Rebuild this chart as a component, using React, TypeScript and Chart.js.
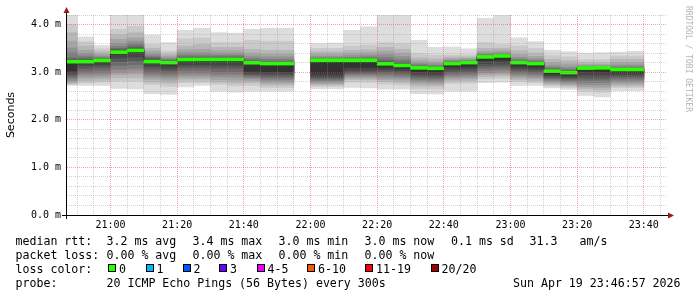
import React, { useEffect, useRef } from 'react';
import { Chart, registerables } from 'chart.js';

Chart.register(...registerables);

// ---------- data ----------
const axisStart = '20:46:57';
const axisEnd = '23:46:57';

// end time of each 5-minute step
const stepEnds = [
  '20:50', '20:55', '21:00', '21:05', '21:10', '21:15', '21:20', '21:25', '21:30', '21:35',
  '21:40', '21:45', '21:50', '21:55', '22:00', '22:05', '22:10', '22:15', '22:20', '22:25',
  '22:30', '22:35', '22:40', '22:45', '22:50', '22:55', '23:00', '23:05', '23:10', '23:15',
  '23:20', '23:25', '23:30', '23:35', '23:40',
];

// median RTT (ms) per step
const medianRtt = [
  3.22, 3.22, 3.245, 3.42, 3.455, 3.22, 3.2, 3.265, 3.267, 3.267,
  3.267, 3.197, 3.18, 3.18, null, 3.25, 3.25, 3.25, 3.25, 3.175,
  3.14, 3.09, 3.08, 3.18, 3.2, 3.32, 3.34, 3.2, 3.18, 3.02,
  2.99, 3.085, 3.09, 3.055, 3.055,
];

// 20 sorted ping RTTs (ms) per step
const pingSamples: (number[] | null)[] = [
  [2.72, 2.74, 2.76, 2.79, 2.82, 2.86, 2.90, 2.94, 2.98, 3.03, 3.22, 3.24, 3.27, 3.30, 3.41, 3.51, 3.65, 3.83, 4.00, 4.40],
  [2.72, 2.77, 2.82, 2.87, 2.92, 2.97, 3.02, 3.08, 3.14, 3.19, 3.23, 3.25, 3.27, 3.30, 3.34, 3.39, 3.46, 3.55, 3.64, 3.74],
  [2.72, 2.79, 2.83, 2.88, 2.93, 2.98, 3.04, 3.10, 3.15, 3.20, 3.25, 3.26, 3.27, 3.29, 3.31, 3.34, 3.38, 3.43, 3.49, 3.56],
  [2.66, 2.81, 2.88, 2.95, 3.00, 3.06, 3.14, 3.22, 3.30, 3.38, 3.43, 3.45, 3.47, 3.50, 3.54, 3.60, 3.69, 3.79, 3.90, 4.40],
  [2.65, 2.81, 2.88, 2.96, 3.02, 3.08, 3.16, 3.24, 3.32, 3.40, 3.47, 3.48, 3.51, 3.55, 3.60, 3.65, 3.72, 3.83, 3.96, 4.40],
  [2.55, 2.74, 2.79, 2.85, 2.90, 2.95, 3.00, 3.06, 3.12, 3.18, 3.24, 3.25, 3.28, 3.31, 3.34, 3.38, 3.44, 3.50, 3.58, 3.78],
  [2.53, 2.70, 2.77, 2.83, 2.88, 2.93, 2.98, 3.03, 3.08, 3.14, 3.20, 3.21, 3.23, 3.25, 3.27, 3.30, 3.34, 3.38, 3.44, 3.62],
  [2.69, 2.78, 2.83, 2.88, 2.93, 2.98, 3.04, 3.10, 3.15, 3.21, 3.27, 3.28, 3.30, 3.32, 3.36, 3.41, 3.47, 3.55, 3.70, 3.88],
  [2.72, 2.78, 2.83, 2.88, 2.93, 2.98, 3.04, 3.10, 3.15, 3.21, 3.27, 3.28, 3.30, 3.32, 3.36, 3.41, 3.48, 3.58, 3.72, 3.92],
  [2.60, 2.74, 2.79, 2.84, 2.90, 2.95, 3.01, 3.08, 3.14, 3.21, 3.27, 3.28, 3.30, 3.32, 3.35, 3.39, 3.45, 3.52, 3.62, 3.83],
  [2.58, 2.71, 2.77, 2.83, 2.89, 2.95, 3.01, 3.08, 3.14, 3.21, 3.27, 3.28, 3.30, 3.32, 3.35, 3.39, 3.45, 3.52, 3.62, 3.82],
  [2.60, 2.72, 2.78, 2.82, 2.86, 2.89, 2.92, 2.95, 2.98, 3.02, 3.20, 3.21, 3.23, 3.25, 3.29, 3.34, 3.40, 3.48, 3.67, 3.90],
  [2.60, 2.68, 2.73, 2.77, 2.81, 2.85, 2.89, 2.93, 2.97, 3.01, 3.17, 3.18, 3.20, 3.23, 3.27, 3.32, 3.38, 3.46, 3.65, 3.92],
  [2.60, 2.68, 2.73, 2.77, 2.81, 2.85, 2.89, 2.93, 2.97, 3.01, 3.17, 3.18, 3.20, 3.23, 3.27, 3.32, 3.38, 3.46, 3.65, 3.92],
  null,
  [2.65, 2.70, 2.73, 2.76, 2.79, 2.82, 2.85, 2.88, 2.92, 2.98, 3.24, 3.25, 3.26, 3.28, 3.30, 3.33, 3.38, 3.43, 3.50, 3.60],
  [2.65, 2.70, 2.73, 2.76, 2.79, 2.82, 2.85, 2.88, 2.92, 2.98, 3.24, 3.25, 3.26, 3.28, 3.30, 3.33, 3.38, 3.43, 3.50, 3.61],
  [2.68, 2.79, 2.84, 2.87, 2.91, 2.94, 2.97, 3.00, 3.04, 3.10, 3.24, 3.25, 3.26, 3.28, 3.31, 3.35, 3.40, 3.46, 3.55, 3.88],
  [2.67, 2.79, 2.84, 2.87, 2.91, 2.94, 2.97, 3.00, 3.04, 3.10, 3.25, 3.26, 3.27, 3.29, 3.32, 3.36, 3.41, 3.47, 3.57, 3.95],
  [2.64, 2.75, 2.80, 2.84, 2.88, 2.93, 2.97, 3.01, 3.05, 3.10, 3.18, 3.20, 3.22, 3.26, 3.31, 3.37, 3.44, 3.52, 3.62, 4.50],
  [2.64, 2.73, 2.78, 2.83, 2.87, 2.91, 2.95, 2.99, 3.03, 3.08, 3.15, 3.16, 3.18, 3.22, 3.27, 3.33, 3.40, 3.48, 3.60, 4.50],
  [2.55, 2.65, 2.71, 2.76, 2.80, 2.84, 2.88, 2.92, 2.96, 3.01, 3.09, 3.10, 3.11, 3.13, 3.16, 3.19, 3.24, 3.30, 3.39, 3.67],
  [2.54, 2.65, 2.71, 2.75, 2.79, 2.83, 2.87, 2.91, 2.95, 3.00, 3.08, 3.09, 3.10, 3.12, 3.14, 3.18, 3.22, 3.28, 3.36, 3.52],
  [2.60, 2.76, 2.81, 2.85, 2.89, 2.93, 2.97, 3.01, 3.06, 3.11, 3.18, 3.19, 3.20, 3.21, 3.23, 3.25, 3.28, 3.32, 3.36, 3.53],
  [2.60, 2.77, 2.82, 2.86, 2.90, 2.94, 2.98, 3.02, 3.07, 3.12, 3.20, 3.21, 3.22, 3.23, 3.24, 3.26, 3.29, 3.32, 3.36, 3.49],
  [2.78, 2.86, 2.91, 2.95, 2.99, 3.03, 3.08, 3.13, 3.18, 3.24, 3.32, 3.33, 3.34, 3.35, 3.37, 3.40, 3.44, 3.50, 3.62, 4.13],
  [2.79, 2.87, 2.92, 2.96, 3.00, 3.04, 3.09, 3.14, 3.19, 3.25, 3.34, 3.35, 3.36, 3.37, 3.38, 3.41, 3.45, 3.50, 3.58, 4.22],
  [2.72, 2.80, 2.84, 2.88, 2.92, 2.96, 3.00, 3.04, 3.08, 3.13, 3.20, 3.21, 3.22, 3.24, 3.27, 3.31, 3.37, 3.45, 3.55, 3.72],
  [2.72, 2.78, 2.82, 2.86, 2.90, 2.94, 2.98, 3.02, 3.06, 3.11, 3.18, 3.19, 3.20, 3.22, 3.24, 3.28, 3.33, 3.40, 3.50, 3.64],
  [2.67, 2.71, 2.74, 2.77, 2.80, 2.83, 2.86, 2.89, 2.92, 2.96, 3.03, 3.04, 3.05, 3.07, 3.10, 3.14, 3.20, 3.27, 3.35, 3.46],
  [2.64, 2.68, 2.71, 2.74, 2.77, 2.80, 2.83, 2.86, 2.89, 2.93, 3.00, 3.01, 3.02, 3.04, 3.07, 3.11, 3.17, 3.24, 3.32, 3.43],
  [2.51, 2.60, 2.65, 2.69, 2.73, 2.78, 2.83, 2.88, 2.94, 3.00, 3.08, 3.09, 3.09, 3.10, 3.11, 3.13, 3.16, 3.20, 3.26, 3.40],
  [2.48, 2.58, 2.63, 2.68, 2.73, 2.78, 2.83, 2.88, 2.94, 3.00, 3.09, 3.09, 3.09, 3.10, 3.11, 3.13, 3.16, 3.20, 3.26, 3.41],
  [2.61, 2.68, 2.71, 2.75, 2.79, 2.83, 2.87, 2.91, 2.95, 2.99, 3.06, 3.06, 3.07, 3.08, 3.11, 3.15, 3.20, 3.27, 3.34, 3.42],
  [2.61, 2.68, 2.71, 2.75, 2.79, 2.83, 2.87, 2.91, 2.95, 2.99, 3.06, 3.06, 3.07, 3.08, 3.11, 3.15, 3.20, 3.27, 3.34, 3.44],
];

const yTickLabels = ['0.0 m', '1.0 m', '2.0 m', '3.0 m', '4.0 m'];
const xTickLabels = ['21:00', '21:20', '21:40', '22:00', '22:20', '22:40', '23:00', '23:20', '23:40'];

const smokeShades = ['#dddddd', '#cacaca', '#b7b7b7', '#a4a4a4', '#919191', '#7e7e7e', '#6b6b6b', '#585858', '#454545', '#323232'];

const medianStats = ['3.2 ms avg', '3.4 ms max', '3.0 ms min', '3.0 ms now', '0.1 ms sd', '31.3', 'am/s'];
const lossStats = ['0.00 % avg', '0.00 % max', '0.00 % min', '0.00 % now'];
const lossLabels = ['0', '1', '2', '3', '4-5', '6-10', '11-19', '20/20'];
const lossColors = ['#26ff00', '#00b8ff', '#0059ff', '#6a00ff', '#ee00ff', '#ff5500', '#ff0000', '#a10000'];
const probeText = '20 ICMP Echo Pings (56 Bytes) every 300s';
const stampText = 'Sun Apr 19 23:46:57 2026';

// ---------- helpers ----------
const toMin = (s: string) => {
  const p = s.split(':').map(Number);
  return p[0] * 60 + p[1] + (p[2] || 0) / 60;
};

const MONO = "'DejaVu Sans Mono', monospace";

const axesPlugin = {
  id: 'rrdAxes',
  afterDraw(chart: any) {
    const { ctx, chartArea: a } = chart;
    ctx.save();
    ctx.strokeStyle = '#000';
    ctx.lineWidth = 1;
    ctx.beginPath();
    ctx.moveTo(a.left - 0.5, a.bottom + 4);
    ctx.lineTo(a.left - 0.5, a.top - 6);
    ctx.moveTo(a.left - 5, a.bottom + 0.5);
    ctx.lineTo(a.right + 2, a.bottom + 0.5);
    ctx.stroke();
    ctx.fillStyle = '#a01818';
    ctx.beginPath();
    ctx.moveTo(a.left - 0.5, a.top - 8);
    ctx.lineTo(a.left - 3.5, a.top - 2);
    ctx.lineTo(a.left + 2.5, a.top - 2);
    ctx.closePath();
    ctx.fill();
    ctx.beginPath();
    ctx.moveTo(a.right + 7, a.bottom + 0.5);
    ctx.lineTo(a.right + 1, a.bottom - 2.5);
    ctx.lineTo(a.right + 1, a.bottom + 3.5);
    ctx.closePath();
    ctx.fill();
    ctx.restore();
  },
};

export default function App() {
  const canvasRef = useRef<HTMLCanvasElement | null>(null);

  useEffect(() => {
    const canvas = canvasRef.current;
    if (!canvas) return;
    const stepX = stepEnds.map(toMin);
    const xMin = toMin(axisStart);
    const xMax = toMin(axisEnd);

    const datasets: any[] = [];
    smokeShades.forEach((color, b) => {
      const data: any[] = [];
      stepX.forEach((t, i) => {
        const row = pingSamples[i];
        if (row) data.push({ x: t - 2.5, y: [row[b], row[19 - b]] });
      });
      datasets.push({
        type: 'bar',
        data,
        backgroundColor: color,
        borderWidth: 0,
        grouped: false,
        barPercentage: 1,
        categoryPercentage: 1,
        order: 30 - b,
      });
    });

    // thin dark stepped median line
    const lineData: any[] = stepX.map((t, i) => ({ x: t - 5, y: medianRtt[i] }));
    lineData.push({ x: stepX[stepX.length - 1], y: medianRtt[medianRtt.length - 1] });
    datasets.push({
      type: 'line',
      data: lineData,
      borderColor: '#1a1a1a',
      borderWidth: 1,
      pointRadius: 0,
      stepped: true,
      spanGaps: false,
      fill: false,
      order: 2,
    });

    // green median band (0 % loss colour)
    const greenData: any[] = [];
    stepX.forEach((t, i) => {
      const m = medianRtt[i];
      if (m != null) greenData.push({ x: t - 2.5, y: [m - 0.031, m + 0.031] });
    });
    datasets.push({
      type: 'bar',
      data: greenData,
      backgroundColor: lossColors[0],
      borderWidth: 0,
      grouped: false,
      barPercentage: 1,
      categoryPercentage: 1,
      order: 1,
    });

    const xTicks: number[] = [];
    for (let v = Math.ceil(xMin / 5) * 5; v <= xMax; v += 5) xTicks.push(v);
    const yTicks: number[] = [];
    for (let i = 0; i <= 21; i++) yTicks.push(Math.round(i * 2) / 10);

    const fmt = (m: number) => {
      const h = Math.floor(m / 60);
      const mm = Math.round(m - h * 60);
      return `${String(h).padStart(2, '0')}:${String(mm).padStart(2, '0')}`;
    };

    const minorGrid = 'rgba(150,150,150,0.42)';
    const majorGrid = 'rgba(222,79,79,0.5)';

    const chart = new Chart(canvas, {
      type: 'bar',
      data: { datasets },
      options: {
        responsive: false,
        animation: false,
        devicePixelRatio: 1,
        layout: { padding: { left: 0, top: 15, right: 30, bottom: 0 } },
        plugins: {
          legend: { display: false },
          tooltip: { enabled: false },
          title: { display: false },
        },
        scales: {
          x: {
            type: 'linear',
            min: xMin,
            max: xMax,
            offset: false,
            grid: {
              offset: false,
              z: 1,
              drawTicks: false,
              lineWidth: 1,
              color: (c: any) => {
                const v = c.tick ? c.tick.value : 0;
                const lab = fmt(v);
                return xTickLabels.includes(lab) ? majorGrid : minorGrid;
              },
            },
            border: { display: false, dash: [1, 1] },
            ticks: {
              autoSkip: false,
              maxRotation: 0,
              minRotation: 0,
              padding: 4,
              color: '#000',
              font: { family: MONO, size: 10 },
              callback: (v: any) => {
                const lab = fmt(Number(v));
                return xTickLabels.includes(lab) ? lab : '';
              },
            },
            afterBuildTicks: (s: any) => {
              s.ticks = xTicks.map((v) => ({ value: v }));
            },
            afterFit: (s: any) => {
              s.height = 82;
            },
          },
          y: {
            type: 'linear',
            min: 0,
            max: 4.2,
            grid: {
              z: 1,
              drawTicks: false,
              lineWidth: 1,
              color: (c: any) => {
                const v = c.tick ? c.tick.value : 0;
                return Math.abs(v - Math.round(v)) < 1e-6 ? majorGrid : minorGrid;
              },
            },
            border: { display: false, dash: [1, 1] },
            ticks: {
              autoSkip: false,
              padding: 6,
              color: '#000',
              font: { family: MONO, size: 10 },
              callback: (v: any) => {
                const n = Number(v);
                return Math.abs(n - Math.round(n)) < 1e-6 ? yTickLabels[Math.round(n)] ?? '' : '';
              },
            },
            afterBuildTicks: (s: any) => {
              s.ticks = yTicks.map((v) => ({ value: v }));
            },
            afterFit: (s: any) => {
              s.width = 67;
            },
          },
        },
      } as any,
      plugins: [axesPlugin],
    });

    return () => chart.destroy();
  }, []);

  const textBase: React.CSSProperties = {
    position: 'absolute',
    fontFamily: MONO,
    fontSize: '11.6px',
    lineHeight: '14px',
    whiteSpace: 'pre',
    color: '#000',
  };
  const rowTops = [234, 248, 262, 276];
  const statX = [106.5, 192.5, 278.5, 364.5, 451, 529.5, 579.5];
  const boxX = [108, 145.5, 182.5, 219, 256.5, 307, 365, 430.5];

  return (
    <div
      style={{
        position: 'fixed',
        left: 0,
        top: 0,
        width: 697,
        height: 297,
        overflow: 'hidden',
        background: '#fff',
      }}
    >
      <canvas ref={canvasRef} width={697} height={297} style={{ position: 'absolute', left: 0, top: 0 }} />

      <div
        style={{
          position: 'absolute',
          left: 11 - 30,
          top: 115 - 6,
          width: 60,
          height: 12,
          textAlign: 'center',
          transform: 'rotate(-90deg)',
          fontFamily: "'DejaVu Sans', sans-serif",
          fontSize: '11px',
          lineHeight: '12px',
          whiteSpace: 'nowrap',
          color: '#000',
        }}
      >
        Seconds
      </div>

      <div
        style={{
          position: 'absolute',
          left: 688 - 60,
          top: 59 - 5,
          width: 120,
          height: 10,
          textAlign: 'center',
          transform: 'rotate(90deg)',
          fontFamily: MONO,
          fontSize: '8px',
          lineHeight: '10px',
          whiteSpace: 'nowrap',
          color: '#b4b4b4',
        }}
      >
        RRDTOOL / TOBI OETIKER
      </div>

      <div style={{ ...textBase, left: 15.5, top: rowTops[0] }}>median rtt:</div>
      {medianStats.map((s, i) => (
        <div key={'m' + i} style={{ ...textBase, left: statX[i], top: rowTops[0] }}>
          {s}
        </div>
      ))}

      <div style={{ ...textBase, left: 15.5, top: rowTops[1] }}>packet loss:</div>
      {lossStats.map((s, i) => (
        <div key={'l' + i} style={{ ...textBase, left: statX[i], top: rowTops[1] }}>
          {s}
        </div>
      ))}

      <div style={{ ...textBase, left: 15.5, top: rowTops[2] }}>loss color:</div>
      {lossLabels.map((s, i) => (
        <React.Fragment key={'c' + i}>
          <div
            style={{
              position: 'absolute',
              left: boxX[i],
              top: 264,
              width: 8,
              height: 8,
              boxSizing: 'border-box',
              border: '1px solid #000',
              background: lossColors[i],
            }}
          />
          <div style={{ ...textBase, left: boxX[i] + 11, top: rowTops[2] }}>{s}</div>
        </React.Fragment>
      ))}

      <div style={{ ...textBase, left: 15.5, top: rowTops[3] }}>probe:</div>
      <div style={{ ...textBase, left: 106.5, top: rowTops[3] }}>{probeText}</div>
      <div style={{ ...textBase, left: 513, top: rowTops[3] }}>{stampText}</div>
    </div>
  );
}
